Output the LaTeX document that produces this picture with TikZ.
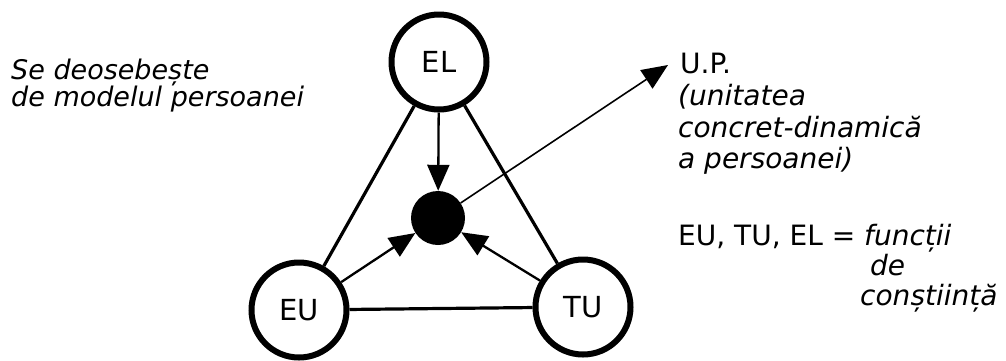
\documentclass[tikz,border=0pt]{standalone}
\usepackage{fontspec}
\setmainfont{DejaVu Sans}
\usetikzlibrary{arrows.meta}
\begin{document}
\begin{tikzpicture}[x=1pt,y=-1pt,
  ring/.style={circle,draw,line width=6pt,minimum size=95pt,inner sep=0pt,font=\fontsize{29}{30}\selectfont},
  edge/.style={line width=3.2pt},
  tip/.style={-{Triangle[length=26pt,width=22pt]}},
  feed/.style={line width=2.3pt,tip},
  txt/.style={anchor=base west,inner sep=0pt,font=\fontsize{28}{30}\selectfont},
  itxt/.style={txt,font=\fontsize{28}{30}\selectfont\itshape},
  ltxt/.style={txt,font=\fontsize{27}{30}\selectfont\itshape}]
\useasboundingbox (0,0) rectangle (1006,360);
\node[ring] (EL) at (439,62) {EL};
\node[ring] (EU) at (299,310) {EU};
\node[ring] (TU) at (583,307) {TU};
\node[circle,fill,minimum size=54pt,inner sep=0pt] (dot) at (438,218) {};
\coordinate (UP) at (668,65);
\draw[edge] (EL) -- (EU);
\draw[edge] (EL) -- (TU);
\draw[edge] (EU) -- (TU);
\draw[feed] (EL) -- (dot);
\draw[feed] (EU) -- (dot);
\draw[feed] (TU) -- (dot);
\draw[line width=1.6pt,tip] (dot) -- (UP);
\node[ltxt] (l1) at (11,79) {Se deosebește};
\node[ltxt] (l2) at (11,106) {de modelul persoanei};
\node[txt] (r1) at (680,73) {U.P.};
\node[itxt] (r2) at (678,105) {(unitatea};
\node[itxt] (r3) at (678,137) {concret-dinamică};
\node[itxt] (r4) at (678,168) {a persoanei)};
\node[txt] (eq) at (678,245) {EU, TU, EL = \itshape funcții};
\node[itxt] (de) at (870,275) {de};
\node[itxt] (cons) at (860,305) {conștiință};
\end{tikzpicture}
\end{document}
